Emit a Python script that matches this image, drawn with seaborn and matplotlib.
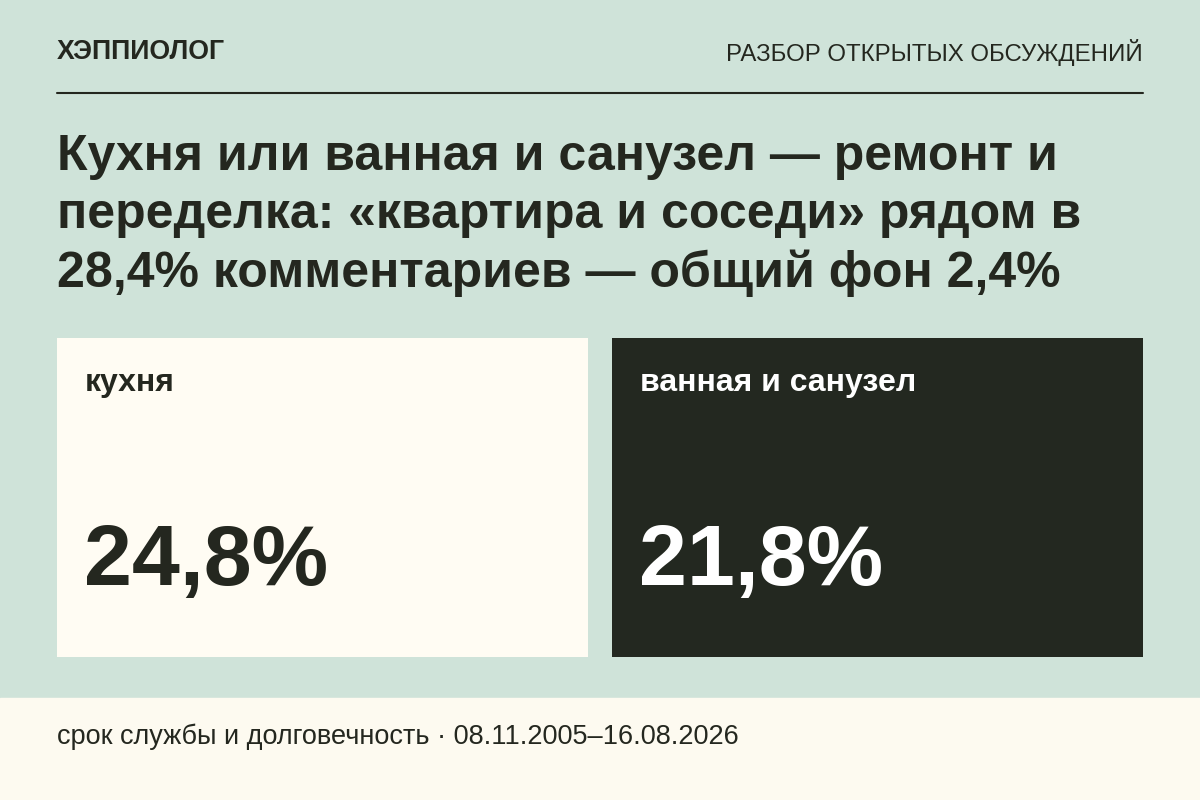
import matplotlib
matplotlib.use("Agg")
import matplotlib.pyplot as plt
import seaborn as sns
import pandas as pd

categories = ["кухня", "ванная и санузел"]
values = [24.8, 21.8]
card_colors = ["#fffcf3", "#232820"]
text_colors = ["#24271f", "#ffffff"]
title_lines = ["Кухня или ванная и санузел — ремонт и",
               "переделка: «квартира и соседи» рядом в",
               "28,4% комментариев — общий фон 2,4%"]
brand = "ХЭППИОЛОГ"
section = "РАЗБОР ОТКРЫТЫХ ОБСУЖДЕНИЙ"
footer = "срок службы и долговечность · 08.11.2005–16.08.2026"

sns.set_theme(style="white")
plt.rcParams['font.family'] = ['Liberation Sans', 'DejaVu Sans']

BG = "#cfe3d9"
DARK = "#24271f"
W, H = 1200, 800
fig = plt.figure(figsize=(12, 8), dpi=100, facecolor=BG)

def fx(x): return x / W
def fy(y): return 1 - y / H

fig.patches.append(plt.Rectangle((0, 0), 1, fy(698), transform=fig.transFigure,
                                 color="#fdfaf0", zorder=0))
fig.text(fx(57), fy(52), brand, fontsize=19.2, fontweight="bold", color=DARK, va="center")
fig.text(fx(1143), fy(53), section, fontsize=17.3, color=DARK, va="center", ha="right")
fig.add_artist(plt.Line2D([fx(57), fx(1143)], [fy(93), fy(93)], color=DARK, lw=1.5))
for i, line in enumerate(title_lines):
    fig.text(fx(57), fy(157 + 58 * i), line, fontsize=36, fontweight="bold",
             color=DARK, va="center")
fig.text(fx(57), fy(737), footer, fontsize=19.5, color=DARK, va="center")

ax = fig.add_axes([fx(57), fy(657), fx(1143 - 57), (657 - 338) / H])
w = 0.9568
df = pd.DataFrame({"cat": categories, "h": [1] * len(categories)})
sns.barplot(data=df, x="cat", y="h", hue="cat", palette=card_colors, width=w,
            legend=False, ax=ax, saturation=1, linewidth=0)
ax.set_xlim(-w / 2, len(categories) - 1 + w / 2)
ax.set_ylim(0, 1)
ax.axis("off")
for i, (c, v) in enumerate(zip(categories, values)):
    x0 = i - w / 2 + 0.05
    ax.text(x0, 0.86, c, fontsize=23, fontweight="bold", color=text_colors[i],
            va="center", ha="left")
    ax.text(x0 - 0.002, 0.295, f"{v:.1f}%".replace(".", ","), fontsize=62, fontweight="bold",
            color=text_colors[i], va="center", ha="left")

fig.savefig("out.png", dpi=100, facecolor=BG)
